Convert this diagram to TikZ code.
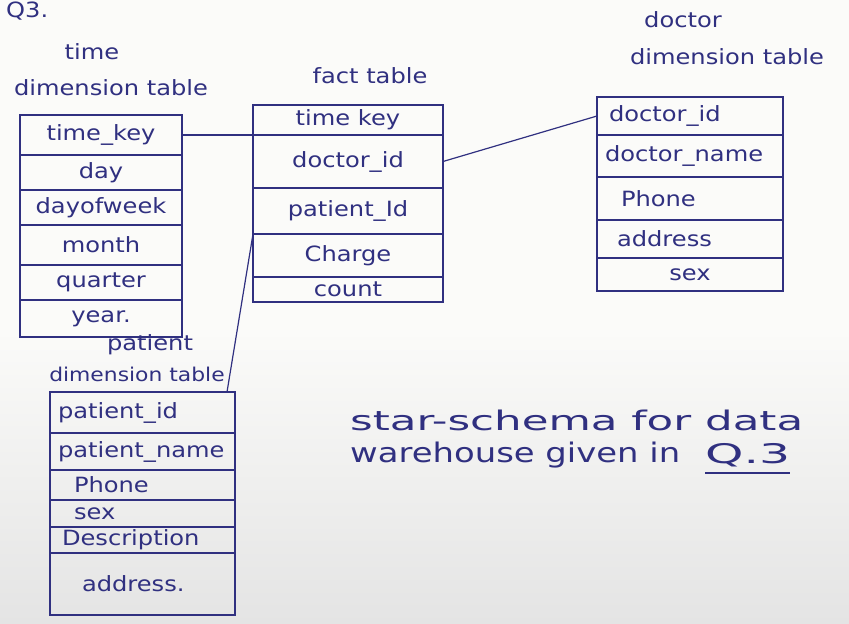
\documentclass[tikz,border=0pt]{standalone}
\usepackage{fontspec}
\usepackage{graphicx}
\newfontfamily\hand[FakeStretch=1.15]{DejaVu Sans}
\definecolor{ink}{RGB}{48,48,128}
\definecolor{bgtop}{RGB}{251,251,249}
\definecolor{bgbot}{RGB}{228,228,228}
\begin{document}
\begin{tikzpicture}[x=1pt,y=-1pt,
  rowc/.style={draw=ink, line width=1.2pt, inner sep=0pt, outer sep=0pt, anchor=north west,
    font=\hand\fontsize{21}{24}\selectfont, text=ink},
  rowl/.style={rowc, align=left, inner xsep=8pt},
  lbl/.style={font=\hand\fontsize{21}{24}\selectfont, text=ink, inner sep=0pt},
  captext/.style={font=\hand\fontsize{27}{30}\selectfont, text=ink, inner sep=0pt, anchor=west},
  conn/.style={draw=ink, line width=1.2pt}]
\useasboundingbox (0,0) rectangle (849,624);
\fill[bgtop] (0,0) rectangle (849,330);
\shade[top color=bgtop, bottom color=bgbot] (0,330) rectangle (849,624);

% heading mark
\node[lbl, anchor=north west] (qmark) at (6,2) {Q3.};

% time dimension table
\node[lbl] (tlab1) at (92,52) {time};
\node[lbl] (tlab2) at (111,88) {dimension table};
\node[rowc, minimum width=162pt, minimum height=40pt] (tk)   at (20,115) {time\_key};
\node[rowc, minimum width=162pt, minimum height=35pt] (tday) at (20,155) {day};
\node[rowc, minimum width=162pt, minimum height=35pt] (tdow) at (20,190) {dayofweek};
\node[rowc, minimum width=162pt, minimum height=40pt] (tmon) at (20,225) {month};
\node[rowc, minimum width=162pt, minimum height=35pt] (tqtr) at (20,265) {quarter};
\node[rowc, minimum width=162pt, minimum height=37pt] (tyr)  at (20,300) {year.};

% fact table
\node[lbl] (flab) at (370,76) {fact table};
\node[rowc, minimum width=190pt, minimum height=30pt] (ftk)  at (253,105) {time key};
\node[rowc, minimum width=190pt, minimum height=53pt] (fdid) at (253,135) {doctor\_id};
\node[rowc, minimum width=190pt, minimum height=46pt] (fpid) at (253,188) {patient\_Id};
\node[rowc, minimum width=190pt, minimum height=43pt] (fch)  at (253,234) {Charge};
\node[rowc, minimum width=190pt, minimum height=25pt] (fcnt) at (253,277) {count};

% doctor dimension table
\node[lbl] (dlab1) at (683,20) {doctor};
\node[lbl] (dlab2) at (727,57) {dimension table};
\node[rowl, text width=170pt, minimum height=38pt] (did)   at (597,97)  {\hspace{4pt}doctor\_id};
\node[rowl, text width=170pt, minimum height=42pt] (dname) at (597,135) {doctor\_name};
\node[rowl, text width=170pt, minimum height=43pt] (dph)   at (597,177) {\hspace{16pt}Phone};
\node[rowl, text width=170pt, minimum height=38pt] (dadd)  at (597,220) {\hspace{12pt}address};
\node[rowc, minimum width=186pt, minimum height=33pt] (dsex) at (597,258) {sex};

% patient dimension table
\node[lbl] (plab1) at (150,345) {patient};
\node[lbl, font=\hand\fontsize{19}{22}\selectfont] (plab2) at (137,374) {dimension table};
\node[rowl, text width=169pt, minimum height=41pt] (pid)   at (50,392) {patient\_id};
\node[rowl, text width=169pt, minimum height=37pt] (pname) at (50,433) {patient\_name};
\node[rowl, text width=169pt, minimum height=30pt] (pph)   at (50,470) {\hspace{16pt}Phone};
\node[rowl, text width=169pt, minimum height=27pt] (psex)  at (50,500) {\hspace{16pt}sex};
\node[rowl, text width=169pt, minimum height=26pt] (pdesc) at (50,527) {\hspace{4pt}Description};
\node[rowl, text width=169pt, minimum height=62pt] (padd)  at (50,553) {\hspace{24pt}address.};

% connectors
\draw[conn] (tk.east) -- (tk.east -| ftk.west);
\draw[conn] (fdid.east) -- (did.west);
\draw[conn] (fpid.south west) -- ([xshift=-8pt]pid.north east);

% caption
\node[captext] (cap1) at (350,420) {\resizebox{453pt}{\height}{star-schema for data}};
\node[captext] (cap2) at (350,455) {\resizebox{330pt}{\height}{warehouse given in}};
\node[captext] (q3)   at (705,455) {\resizebox{85pt}{\height}{Q.3}};
\draw[conn] ([yshift=-6pt]q3.south west) -- ([yshift=-6pt]q3.south east);
\end{tikzpicture}
\end{document}
